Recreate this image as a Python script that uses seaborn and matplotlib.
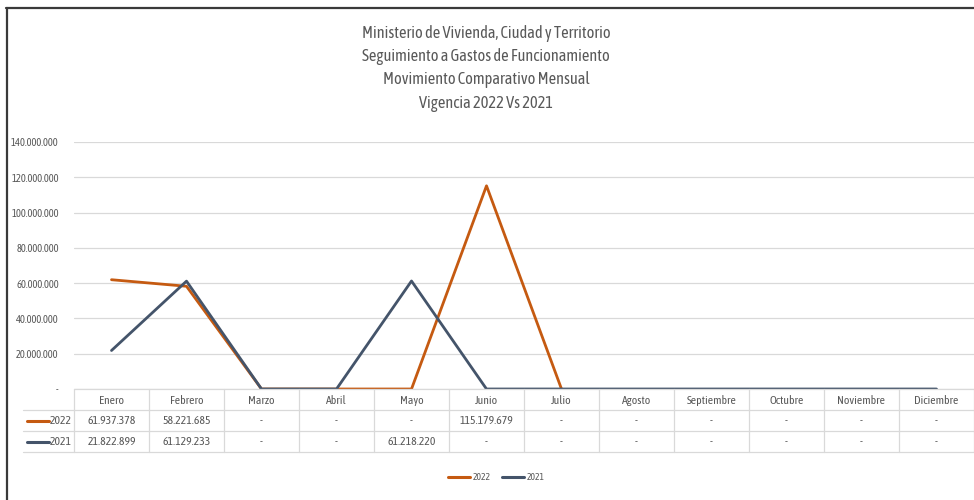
import numpy as np
import pandas as pd
import matplotlib
matplotlib.use("Agg")
import matplotlib.pyplot as plt
import seaborn as sns
from matplotlib.lines import Line2D
from matplotlib.transforms import blended_transform_factory

# ---------------- data ----------------
months = ["Enero", "Febrero", "Marzo", "Abril", "Mayo", "Junio", "Julio",
          "Agosto", "Septiembre", "Octubre", "Noviembre", "Diciembre"]
v2022 = [61937378, 58221685, 0, 0, 0, 115179679, 0,
         np.nan, np.nan, np.nan, np.nan, np.nan]
v2021 = [21822899, 61129233, 0, 0, 61218220, 0, 0, 0, 0, 0, 0, 0]
series_names = ["2022", "2021"]
yticks = [0, 20000000, 40000000, 60000000, 80000000, 100000000, 120000000, 140000000]
title_lines = ["Ministerio de Vivienda, Ciudad y Territorio",
               "Seguimiento a Gastos de Funcionamiento",
               "Movimiento Comparativo Mensual",
               "Vigencia 2022 Vs 2021"]

colors = {"2022": "#C55A11", "2021": "#44546A"}
values = {"2022": v2022, "2021": v2021}

df = pd.DataFrame({
    "idx": list(range(12)) * 2,
    "mes": months * 2,
    "serie": ["2022"] * 12 + ["2021"] * 12,
    "valor": v2022 + v2021,
})


def fmt(v):
    if v is None or (isinstance(v, float) and np.isnan(v)) or v == 0:
        return "-"
    return f"{int(v):,}".replace(",", ".")


# ---------------- style ----------------
sns.set_theme(style="white")
plt.rcParams["font.family"] = ["Asap Condensed", "Cabin Condensed", "DejaVu Sans"]
TXT = "#595959"
GRID = "#D9D9D9"

W, H = 974, 500
fig = plt.figure(figsize=(W / 100, H / 100), dpi=100)
fig.patch.set_facecolor("white")

x0, x1 = 74, 974
y_top, y_zero = 142, 389
ax = fig.add_axes([x0 / W, (H - y_zero) / H, (x1 - x0) / W, (y_zero - y_top) / H])

sns.lineplot(data=df, x="idx", y="valor", hue="serie", hue_order=series_names,
             palette=colors, sort=False, linewidth=2.0, legend=False, ax=ax)

ax.set_xlim(-0.5, 11.5)
ax.set_ylim(0, 140000000)
ax.set_yticks(yticks)
ax.set_yticklabels([fmt(v) for v in yticks])
ax.set_xticks([])
ax.set_xlabel("")
ax.set_ylabel("")
ax.tick_params(axis="y", length=0, pad=11, labelsize=7.6, labelcolor=TXT)
ax.yaxis.grid(True, color=GRID, linewidth=0.9)
ax.set_axisbelow(True)
for s in ax.spines.values():
    s.set_visible(False)

# ---------------- title ----------------
for i, line in enumerate(title_lines):
    fig.text(486 / W, 1 - (33 + 23.5 * i) / H, line, ha="center", va="center",
             fontsize=11.8, color=TXT)

# ---------------- data table ----------------
tf = fig.transFigure
bt = blended_transform_factory(ax.transData, tf)


def fy(py):
    return 1 - py / H


def hline(xa, xb, py):
    fig.add_artist(Line2D([xa / W, xb / W], [fy(py), fy(py)], transform=tf,
                          color=GRID, linewidth=0.9))


def vline(px, ya, yb):
    fig.add_artist(Line2D([px / W, px / W], [fy(ya), fy(yb)], transform=tf,
                          color=GRID, linewidth=0.9))


row_y = [389, 410, 431, 452]
hline(x0, x1, row_y[0])
for yy in row_y[1:]:
    hline(23, x1, yy)
for k in range(13):
    vline(x0 + 75 * k, row_y[0], row_y[3])

TS = 8.4
for i, m in enumerate(months):
    fig.text(i, fy(400), m, transform=bt, ha="center", va="center",
             fontsize=TS, color=TXT)
    for r, s in enumerate(series_names):
        fig.text(i, fy(421 + 20.5 * r), fmt(values[s][i]), transform=bt,
                 ha="center", va="center", fontsize=TS, color=TXT)

for r, s in enumerate(series_names):
    yy = fy(421 + 20.5 * r)
    fig.add_artist(Line2D([27 / W, 49 / W], [yy, yy], transform=tf,
                          color=colors[s], linewidth=2.2))
    fig.text(50 / W, yy, s, transform=tf, ha="left", va="center",
             fontsize=TS, color=TXT)

# ---------------- legend ----------------
handles = [Line2D([0], [0], color=colors[s], linewidth=2.2) for s in series_names]
fig.legend(handles, series_names, loc="center", bbox_to_anchor=(496 / W, fy(478)),
           ncol=2, frameon=False, fontsize=6.8, handlelength=2.4, handletextpad=0.2,
           columnspacing=1.2, labelcolor=TXT)

# ---------------- frame ----------------
fig.add_artist(Line2D([6 / W, 1.0], [fy(8), fy(8)], transform=tf,
                      color="#3A3A3A", linewidth=1.6))
fig.add_artist(Line2D([7 / W, 7 / W], [fy(8), 0.0], transform=tf,
                      color="#3A3A3A", linewidth=1.6))

fig.savefig("out.png", dpi=100, facecolor="white")
